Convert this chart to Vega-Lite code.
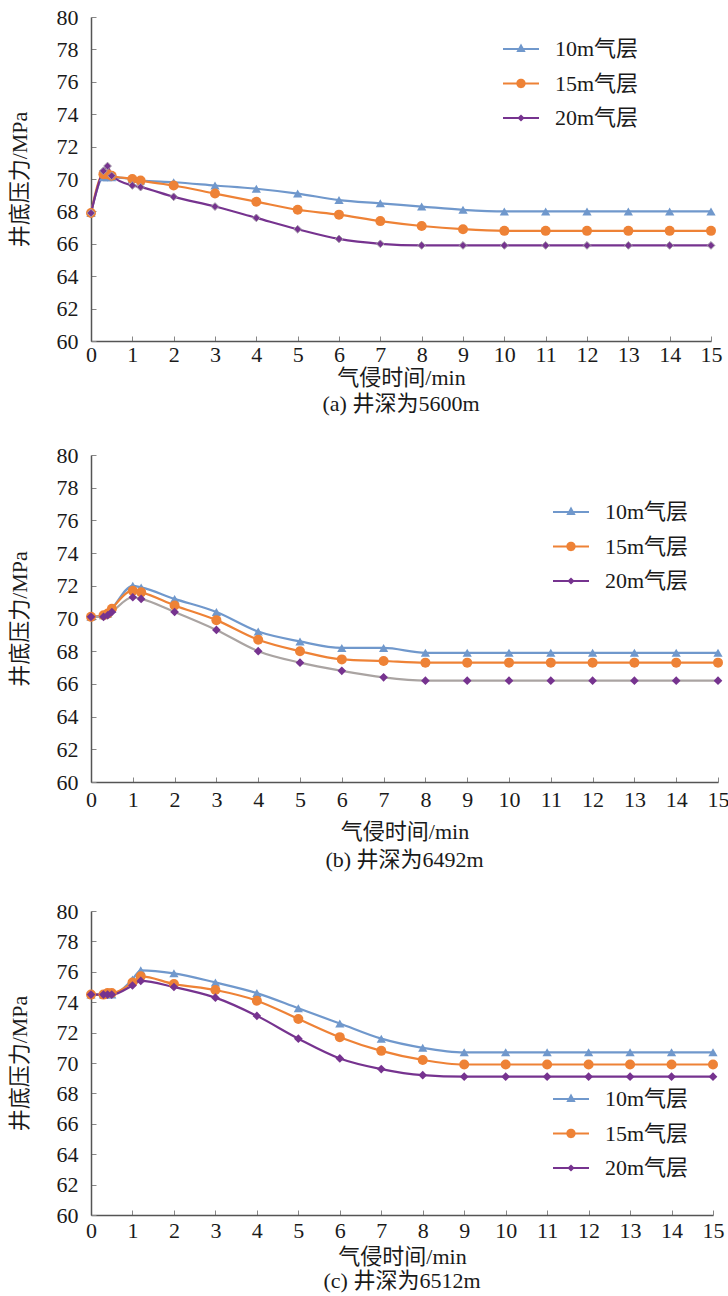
{
  "$schema": "https://vega.github.io/schema/vega-lite/v6.json",
  "padding": {"left": 8, "top": 6, "right": 0, "bottom": 4},
  "spacing": 29,
  "background": "white",
  "resolve": {"scale": {"color": "independent"}, "legend": {"color": "independent"}},
  "config": {
    "view": {"stroke": null},
    "font": "Liberation Serif",
    "axis": {
      "grid": false,
      "domainColor": "#555555",
      "domainWidth": 1.5,
      "tickColor": "#888888",
      "tickSize": -5,
      "labelFont": "Liberation Serif",
      "labelFontSize": 22,
      "labelColor": "#1a1a1a",
      "titleFont": "Liberation Serif, Noto Sans CJK SC",
      "titleFontSize": 22,
      "titleFontWeight": "normal",
      "titleColor": "#1a1a1a"
    },
    "axisX": {"labelPadding": 8, "titlePadding": 2, "labelFlush": false},
    "axisY": {"labelPadding": 18, "titlePadding": 25},
    "title": {"font": "Liberation Serif, Noto Sans CJK SC", "fontSize": 22, "fontWeight": "normal", "color": "#1a1a1a", "orient": "bottom", "offset": 2},
    "legend": {
      "title": null,
      "orient": "none",
      "padding": 0,
      "labelFont": "Liberation Serif, Noto Sans CJK SC",
      "labelFontSize": 22,
      "labelColor": "#1a1a1a",
      "labelOffset": 16,
      "symbolSize": 1296,
      "rowPadding": 5.5
    }
  },
  "datasets": {
    "a": [
      {"t":0,"s":"10m气层","p":67.9},{"t":0.3,"s":"10m气层","p":70.1},{"t":0.4,"s":"10m气层","p":70.1},{"t":0.5,"s":"10m气层","p":70.1},{"t":1,"s":"10m气层","p":70.0},{"t":1.2,"s":"10m气层","p":69.9},{"t":2,"s":"10m气层","p":69.8},{"t":3,"s":"10m气层","p":69.6},{"t":4,"s":"10m气层","p":69.4},{"t":5,"s":"10m气层","p":69.1},{"t":6,"s":"10m气层","p":68.7},{"t":7,"s":"10m气层","p":68.5},{"t":8,"s":"10m气层","p":68.3},{"t":9,"s":"10m气层","p":68.1},{"t":10,"s":"10m气层","p":68.0},{"t":11,"s":"10m气层","p":68.0},{"t":12,"s":"10m气层","p":68.0},{"t":13,"s":"10m气层","p":68.0},{"t":14,"s":"10m气层","p":68.0},{"t":15,"s":"10m气层","p":68.0},
      {"t":0,"s":"15m气层","p":67.9},{"t":0.3,"s":"15m气层","p":70.3},{"t":0.4,"s":"15m气层","p":70.3},{"t":0.5,"s":"15m气层","p":70.2},{"t":1,"s":"15m气层","p":70.0},{"t":1.2,"s":"15m气层","p":69.9},{"t":2,"s":"15m气层","p":69.6},{"t":3,"s":"15m气层","p":69.1},{"t":4,"s":"15m气层","p":68.6},{"t":5,"s":"15m气层","p":68.1},{"t":6,"s":"15m气层","p":67.8},{"t":7,"s":"15m气层","p":67.4},{"t":8,"s":"15m气层","p":67.1},{"t":9,"s":"15m气层","p":66.9},{"t":10,"s":"15m气层","p":66.8},{"t":11,"s":"15m气层","p":66.8},{"t":12,"s":"15m气层","p":66.8},{"t":13,"s":"15m气层","p":66.8},{"t":14,"s":"15m气层","p":66.8},{"t":15,"s":"15m气层","p":66.8},
      {"t":0,"s":"20m气层","p":67.9},{"t":0.3,"s":"20m气层","p":70.5},{"t":0.4,"s":"20m气层","p":70.8},{"t":0.5,"s":"20m气层","p":70.2},{"t":1,"s":"20m气层","p":69.6},{"t":1.2,"s":"20m气层","p":69.5},{"t":2,"s":"20m气层","p":68.9},{"t":3,"s":"20m气层","p":68.3},{"t":4,"s":"20m气层","p":67.6},{"t":5,"s":"20m气层","p":66.9},{"t":6,"s":"20m气层","p":66.3},{"t":7,"s":"20m气层","p":66.0},{"t":8,"s":"20m气层","p":65.9},{"t":9,"s":"20m气层","p":65.9},{"t":10,"s":"20m气层","p":65.9},{"t":11,"s":"20m气层","p":65.9},{"t":12,"s":"20m气层","p":65.9},{"t":13,"s":"20m气层","p":65.9},{"t":14,"s":"20m气层","p":65.9},{"t":15,"s":"20m气层","p":65.9}
    ],
    "b": [
      {"t":0,"s":"10m气层","p":70.1},{"t":0.3,"s":"10m气层","p":70.2},{"t":0.4,"s":"10m气层","p":70.3},{"t":0.5,"s":"10m气层","p":70.6},{"t":1,"s":"10m气层","p":72.0},{"t":1.2,"s":"10m气层","p":71.9},{"t":2,"s":"10m气层","p":71.2},{"t":3,"s":"10m气层","p":70.4},{"t":4,"s":"10m气层","p":69.2},{"t":5,"s":"10m气层","p":68.6},{"t":6,"s":"10m气层","p":68.2},{"t":7,"s":"10m气层","p":68.2},{"t":8,"s":"10m气层","p":67.9},{"t":9,"s":"10m气层","p":67.9},{"t":10,"s":"10m气层","p":67.9},{"t":11,"s":"10m气层","p":67.9},{"t":12,"s":"10m气层","p":67.9},{"t":13,"s":"10m气层","p":67.9},{"t":14,"s":"10m气层","p":67.9},{"t":15,"s":"10m气层","p":67.9},
      {"t":0,"s":"15m气层","p":70.1},{"t":0.3,"s":"15m气层","p":70.2},{"t":0.4,"s":"15m气层","p":70.3},{"t":0.5,"s":"15m气层","p":70.6},{"t":1,"s":"15m气层","p":71.7},{"t":1.2,"s":"15m气层","p":71.6},{"t":2,"s":"15m气层","p":70.8},{"t":3,"s":"15m气层","p":69.9},{"t":4,"s":"15m气层","p":68.7},{"t":5,"s":"15m气层","p":68.0},{"t":6,"s":"15m气层","p":67.5},{"t":7,"s":"15m气层","p":67.4},{"t":8,"s":"15m气层","p":67.3},{"t":9,"s":"15m气层","p":67.3},{"t":10,"s":"15m气层","p":67.3},{"t":11,"s":"15m气层","p":67.3},{"t":12,"s":"15m气层","p":67.3},{"t":13,"s":"15m气层","p":67.3},{"t":14,"s":"15m气层","p":67.3},{"t":15,"s":"15m气层","p":67.3},
      {"t":0,"s":"20m气层","p":70.1},{"t":0.3,"s":"20m气层","p":70.1},{"t":0.4,"s":"20m气层","p":70.2},{"t":0.5,"s":"20m气层","p":70.4},{"t":1,"s":"20m气层","p":71.3},{"t":1.2,"s":"20m气层","p":71.2},{"t":2,"s":"20m气层","p":70.4},{"t":3,"s":"20m气层","p":69.3},{"t":4,"s":"20m气层","p":68.0},{"t":5,"s":"20m气层","p":67.3},{"t":6,"s":"20m气层","p":66.8},{"t":7,"s":"20m气层","p":66.4},{"t":8,"s":"20m气层","p":66.2},{"t":9,"s":"20m气层","p":66.2},{"t":10,"s":"20m气层","p":66.2},{"t":11,"s":"20m气层","p":66.2},{"t":12,"s":"20m气层","p":66.2},{"t":13,"s":"20m气层","p":66.2},{"t":14,"s":"20m气层","p":66.2},{"t":15,"s":"20m气层","p":66.2}
    ],
    "c": [
      {"t":0,"s":"10m气层","p":74.5},{"t":0.3,"s":"10m气层","p":74.5},{"t":0.4,"s":"10m气层","p":74.5},{"t":0.5,"s":"10m气层","p":74.5},{"t":1,"s":"10m气层","p":75.5},{"t":1.2,"s":"10m气层","p":76.1},{"t":2,"s":"10m气层","p":75.9},{"t":3,"s":"10m气层","p":75.3},{"t":4,"s":"10m气层","p":74.6},{"t":5,"s":"10m气层","p":73.6},{"t":6,"s":"10m气层","p":72.6},{"t":7,"s":"10m气层","p":71.6},{"t":8,"s":"10m气层","p":71.0},{"t":9,"s":"10m气层","p":70.7},{"t":10,"s":"10m气层","p":70.7},{"t":11,"s":"10m气层","p":70.7},{"t":12,"s":"10m气层","p":70.7},{"t":13,"s":"10m气层","p":70.7},{"t":14,"s":"10m气层","p":70.7},{"t":15,"s":"10m气层","p":70.7},
      {"t":0,"s":"15m气层","p":74.5},{"t":0.3,"s":"15m气层","p":74.5},{"t":0.4,"s":"15m气层","p":74.6},{"t":0.5,"s":"15m气层","p":74.6},{"t":1,"s":"15m气层","p":75.3},{"t":1.2,"s":"15m气层","p":75.7},{"t":2,"s":"15m气层","p":75.2},{"t":3,"s":"15m气层","p":74.8},{"t":4,"s":"15m气层","p":74.1},{"t":5,"s":"15m气层","p":72.9},{"t":6,"s":"15m气层","p":71.7},{"t":7,"s":"15m气层","p":70.8},{"t":8,"s":"15m气层","p":70.2},{"t":9,"s":"15m气层","p":69.9},{"t":10,"s":"15m气层","p":69.9},{"t":11,"s":"15m气层","p":69.9},{"t":12,"s":"15m气层","p":69.9},{"t":13,"s":"15m气层","p":69.9},{"t":14,"s":"15m气层","p":69.9},{"t":15,"s":"15m气层","p":69.9},
      {"t":0,"s":"20m气层","p":74.5},{"t":0.3,"s":"20m气层","p":74.5},{"t":0.4,"s":"20m气层","p":74.5},{"t":0.5,"s":"20m气层","p":74.5},{"t":1,"s":"20m气层","p":75.1},{"t":1.2,"s":"20m气层","p":75.4},{"t":2,"s":"20m气层","p":75.0},{"t":3,"s":"20m气层","p":74.3},{"t":4,"s":"20m气层","p":73.1},{"t":5,"s":"20m气层","p":71.6},{"t":6,"s":"20m气层","p":70.3},{"t":7,"s":"20m气层","p":69.6},{"t":8,"s":"20m气层","p":69.2},{"t":9,"s":"20m气层","p":69.1},{"t":10,"s":"20m气层","p":69.1},{"t":11,"s":"20m气层","p":69.1},{"t":12,"s":"20m气层","p":69.1},{"t":13,"s":"20m气层","p":69.1},{"t":14,"s":"20m气层","p":69.1},{"t":15,"s":"20m气层","p":69.1}
    ]
  },
  "vconcat": [
    {
      "width": 620, "height": 324,
      "data": {"name": "a"},
      "title": {"text": "(a) 井深为5600m", "offset": 6},
      "encoding": {
        "x": {"field": "t", "type": "quantitative", "scale": {"domain": [0, 15], "nice": false}, "axis": {"values": [0,1,2,3,4,5,6,7,8,9,10,11,12,13,14,15], "title": "气侵时间/min"}},
        "y": {"field": "p", "type": "quantitative", "scale": {"domain": [60, 80], "nice": false}, "axis": {"values": [60,62,64,66,68,70,72,74,76,78,80], "title": "井底压力/MPa"}}
      },
      "layer": [
        {"mark": {"type": "line", "interpolate": "monotone", "strokeWidth": 2.2},
         "encoding": {"color": {"field": "s", "type": "nominal", "scale": {"domain": ["10m气层","15m气层","20m气层"], "range": ["#7098cc","#ee8236","#76338f"]},
          "legend": {"legendX": 412, "legendY": 14,
            "encode": {"symbols": {"update": {
              "shape": {"signal": "datum.value==='10m气层' ? 'M-1,-0.06H1V0.06H-1Z M0,-0.3L0.26,0.16H-0.26Z' : datum.value==='15m气层' ? 'M-1,-0.06H1V0.06H-1Z M0.26,0 A0.26,0.26 0 1,1 -0.26,0 A0.26,0.26 0 1,1 0.26,0 Z' : 'M-1,-0.06H1V0.06H-1Z M0,-0.2L0.2,0L0,0.2L-0.2,0Z'"},
              "fill": {"signal": "datum.value==='10m气层' ? '#7098cc' : datum.value==='15m气层' ? '#ee8236' : '#76338f'"},
              "fillOpacity": {"value": 1},
              "opacity": {"value": 1},
              "strokeWidth": {"value": 0}}}}}}}},
        {"transform": [{"filter": "datum.s==='10m气层'"}], "mark": {"type": "point", "filled": true, "opacity": 1, "shape": "triangle-up", "size": 85, "color": "#7098cc"}},
        {"transform": [{"filter": "datum.s==='15m气层'"}], "mark": {"type": "point", "filled": true, "opacity": 1, "shape": "circle", "size": 100, "color": "#ee8236"}},
        {"transform": [{"filter": "datum.s==='20m气层'"}], "mark": {"type": "point", "filled": true, "opacity": 1, "shape": "diamond", "size": 60, "color": "#76338f", "stroke": "#a49ca8", "strokeWidth": 1}}
      ]
    },
    {
      "width": 627, "height": 327,
      "data": {"name": "b"},
      "title": {"text": "(b) 井深为6492m", "offset": 8},
      "encoding": {
        "x": {"field": "t", "type": "quantitative", "scale": {"domain": [0, 15], "nice": false}, "axis": {"values": [0,1,2,3,4,5,6,7,8,9,10,11,12,13,14,15], "title": "气侵时间/min", "labelPadding": 12, "titlePadding": 11}},
        "y": {"field": "p", "type": "quantitative", "scale": {"domain": [60, 80], "nice": false}, "axis": {"values": [60,62,64,66,68,70,72,74,76,78,80], "title": "井底压力/MPa"}}
      },
      "layer": [
        {"mark": {"type": "line", "interpolate": "monotone", "strokeWidth": 2.2},
         "encoding": {"color": {"field": "s", "type": "nominal", "scale": {"domain": ["10m气层","15m气层","20m气层"], "range": ["#7098cc","#ee8236","#aaa4a2"]},
          "legend": {"legendX": 462, "legendY": 39,
            "encode": {"symbols": {"update": {
              "shape": {"signal": "datum.value==='10m气层' ? 'M-1,-0.06H1V0.06H-1Z M0,-0.3L0.26,0.16H-0.26Z' : datum.value==='15m气层' ? 'M-1,-0.06H1V0.06H-1Z M0.26,0 A0.26,0.26 0 1,1 -0.26,0 A0.26,0.26 0 1,1 0.26,0 Z' : 'M-1,-0.06H1V0.06H-1Z M0,-0.2L0.2,0L0,0.2L-0.2,0Z'"},
              "fill": {"signal": "datum.value==='10m气层' ? '#7098cc' : datum.value==='15m气层' ? '#ee8236' : '#76338f'"},
              "fillOpacity": {"value": 1},
              "opacity": {"value": 1},
              "strokeWidth": {"value": 0}}}}}}}},
        {"transform": [{"filter": "datum.s==='10m气层'"}], "mark": {"type": "point", "filled": true, "opacity": 1, "shape": "triangle-up", "size": 85, "color": "#7098cc"}},
        {"transform": [{"filter": "datum.s==='15m气层'"}], "mark": {"type": "point", "filled": true, "opacity": 1, "shape": "circle", "size": 100, "color": "#ee8236"}},
        {"transform": [{"filter": "datum.s==='20m气层'"}], "mark": {"type": "point", "filled": true, "opacity": 1, "shape": "diamond", "size": 75, "color": "#76338f"}}
      ]
    },
    {
      "width": 622, "height": 304,
      "data": {"name": "c"},
      "title": {"text": "(c) 井深为6512m", "offset": 4},
      "encoding": {
        "x": {"field": "t", "type": "quantitative", "scale": {"domain": [0, 15], "nice": false}, "axis": {"values": [0,1,2,3,4,5,6,7,8,9,10,11,12,13,14,15], "title": "气侵时间/min", "labelPadding": 10, "titlePadding": 5}},
        "y": {"field": "p", "type": "quantitative", "scale": {"domain": [60, 80], "nice": false}, "axis": {"values": [60,62,64,66,68,70,72,74,76,78,80], "title": "井底压力/MPa"}}
      },
      "layer": [
        {"mark": {"type": "line", "interpolate": "monotone", "strokeWidth": 2.2},
         "encoding": {"color": {"field": "s", "type": "nominal", "scale": {"domain": ["10m气层","15m气层","20m气层"], "range": ["#7098cc","#ee8236","#76338f"]},
          "legend": {"legendX": 462, "legendY": 170,
            "encode": {"symbols": {"update": {
              "shape": {"signal": "datum.value==='10m气层' ? 'M-1,-0.06H1V0.06H-1Z M0,-0.3L0.26,0.16H-0.26Z' : datum.value==='15m气层' ? 'M-1,-0.06H1V0.06H-1Z M0.26,0 A0.26,0.26 0 1,1 -0.26,0 A0.26,0.26 0 1,1 0.26,0 Z' : 'M-1,-0.06H1V0.06H-1Z M0,-0.2L0.2,0L0,0.2L-0.2,0Z'"},
              "fill": {"signal": "datum.value==='10m气层' ? '#7098cc' : datum.value==='15m气层' ? '#ee8236' : '#76338f'"},
              "fillOpacity": {"value": 1},
              "opacity": {"value": 1},
              "strokeWidth": {"value": 0}}}}}}}},
        {"transform": [{"filter": "datum.s==='10m气层'"}], "mark": {"type": "point", "filled": true, "opacity": 1, "shape": "triangle-up", "size": 85, "color": "#7098cc"}},
        {"transform": [{"filter": "datum.s==='15m气层'"}], "mark": {"type": "point", "filled": true, "opacity": 1, "shape": "circle", "size": 100, "color": "#ee8236"}},
        {"transform": [{"filter": "datum.s==='20m气层'"}], "mark": {"type": "point", "filled": true, "opacity": 1, "shape": "diamond", "size": 75, "color": "#76338f"}}
      ]
    }
  ]
}
